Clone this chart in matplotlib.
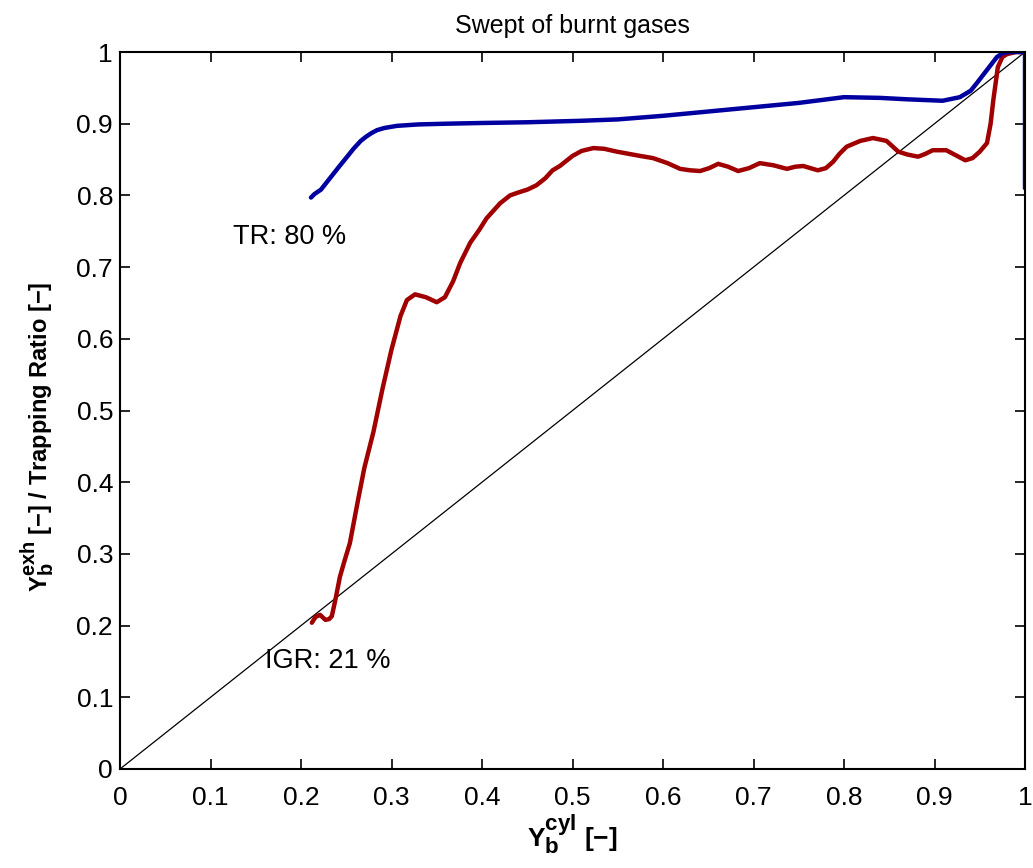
import matplotlib
matplotlib.use("Agg")
import matplotlib.pyplot as plt

try:
    import matplotlib._mathtext as _mt
    _mt.SHRINK_FACTOR = 0.85
except Exception:
    pass

plt.rcParams['font.family'] = ['Liberation Sans', 'DejaVu Sans']
plt.rcParams['mathtext.fontset'] = 'custom'
plt.rcParams['mathtext.rm'] = 'Liberation Sans'
plt.rcParams['mathtext.bf'] = 'Liberation Sans:bold'
plt.rcParams['mathtext.it'] = 'Liberation Sans:italic'

title = "Swept of burnt gases"
xlabel = r"$\mathbf{Y}_\mathbf{b}^\mathbf{cyl}$ [−]"
ylabel = r"$\mathbf{Y}_\mathbf{b}^\mathbf{exh}$ [−] / Trapping Ratio [−]"
ticks = [0, 0.1, 0.2, 0.3, 0.4, 0.5, 0.6, 0.7, 0.8, 0.9, 1]
tick_labels = ["0", "0.1", "0.2", "0.3", "0.4", "0.5", "0.6", "0.7", "0.8", "0.9", "1"]

# Trapping ratio (blue)
tr_x = [0.211, 0.215, 0.222, 0.232, 0.242, 0.251, 0.258, 0.266, 0.272, 0.278, 0.284, 0.292, 0.306,
        0.33, 0.361, 0.40, 0.45, 0.508, 0.55, 0.60, 0.65, 0.70, 0.75, 0.80, 0.84, 0.87,
        0.909, 0.928, 0.94, 0.947, 0.958, 0.969, 0.976, 0.985, 1.0, 1.0]
tr_y = [0.797, 0.802, 0.808, 0.824, 0.840, 0.854, 0.865, 0.876, 0.882, 0.887, 0.891, 0.894, 0.897,
        0.899, 0.900, 0.901, 0.902, 0.904, 0.906, 0.911, 0.917, 0.923, 0.929, 0.937, 0.936, 0.934,
        0.932, 0.937, 0.946, 0.957, 0.975, 0.993, 0.999, 1.0, 1.0, 0.81]

# Burnt gas fraction at exhaust (red)
exh_x = [0.212, 0.216, 0.221, 0.227, 0.231, 0.234, 0.238, 0.243, 0.248, 0.254, 0.263,
         0.270, 0.280, 0.290, 0.300, 0.310, 0.317, 0.326, 0.338, 0.350, 0.359, 0.368,
         0.376, 0.387, 0.397, 0.405, 0.420, 0.431, 0.440, 0.450, 0.460, 0.470, 0.478,
         0.486, 0.500, 0.510, 0.523, 0.535, 0.549, 0.562, 0.575, 0.589, 0.605, 0.619,
         0.630, 0.641, 0.651, 0.661, 0.672, 0.683, 0.695, 0.707, 0.722, 0.737, 0.746,
         0.755, 0.763, 0.771, 0.780, 0.788, 0.795, 0.803, 0.818, 0.832, 0.847, 0.860,
         0.870, 0.882, 0.890, 0.898, 0.913, 0.925, 0.934, 0.942, 0.950, 0.958, 0.962,
         0.965, 0.970, 0.975, 0.980, 0.99, 1.0]
exh_y = [0.204, 0.212, 0.215, 0.208, 0.209, 0.213, 0.236, 0.268, 0.290, 0.315, 0.375,
         0.42, 0.47, 0.53, 0.585, 0.632, 0.654, 0.662, 0.658, 0.651, 0.658, 0.68,
         0.706, 0.734, 0.752, 0.768, 0.789, 0.800, 0.804, 0.808, 0.814, 0.824, 0.835,
         0.841, 0.855, 0.862, 0.866, 0.865, 0.861, 0.858, 0.855, 0.852, 0.845, 0.837,
         0.835, 0.834, 0.838, 0.844, 0.840, 0.834, 0.838, 0.845, 0.842, 0.837, 0.840,
         0.841, 0.838, 0.835, 0.838, 0.847, 0.858, 0.868, 0.876, 0.880, 0.876, 0.861,
         0.857, 0.854, 0.858, 0.863, 0.863, 0.855, 0.849, 0.852, 0.861, 0.873, 0.90,
         0.933, 0.979, 0.993, 0.997, 1.0, 1.0]

diag_x = [0, 1]
diag_y = [0, 1]

fig = plt.figure(figsize=(10.33, 8.68), dpi=100)
ax = fig.add_axes([120/1033, 1 - 769/868, 905/1033, 717/868])

ax.plot(diag_x, diag_y, color='black', lw=0.9)
ax.plot(exh_x, exh_y, color='#a00000', lw=3.2, solid_capstyle='round', solid_joinstyle='round')
ax.plot(tr_x, tr_y, color='#0000a0', lw=3.2, solid_capstyle='round', solid_joinstyle='round')

ax.text(0.125, 0.742, "TR: 80 %", fontsize=19.5, va='center', ha='left')
ax.text(0.160, 0.151, "IGR: 21 %", fontsize=19.5, va='center', ha='left')

ax.set_xlim(0, 1)
ax.set_ylim(0, 1)
ax.set_xticks(ticks)
ax.set_xticklabels(tick_labels)
ax.set_yticks(ticks)
ax.set_yticklabels(tick_labels)
ax.tick_params(direction='in', top=True, right=True, length=7, width=1.2, labelsize=19, pad=5)
ax.tick_params(axis='x', pad=12)
for s in ax.spines.values():
    s.set_linewidth(1.5)

ax.set_title(title, fontsize=18, pad=14)
ax.set_xlabel(xlabel, fontsize=19, fontweight='bold', labelpad=2)
ax.set_ylabel(ylabel, fontsize=17, fontweight='bold')
ax.yaxis.set_label_coords(-0.071, 0.464)

fig.savefig("out.png", dpi=100)
